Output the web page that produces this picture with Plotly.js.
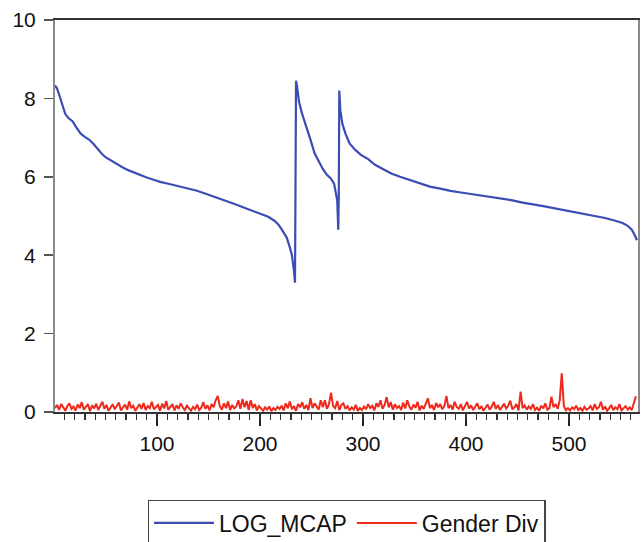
<!DOCTYPE html>
<html>
<head>
<meta charset="utf-8">
<script src="https://cdn.plot.ly/plotly-3.0.1.min.js"></script>
<style>html,body{margin:0;padding:0;background:#fff;}#chart{width:644px;height:542px;}</style>
</head>
<body>
<div id="chart"></div>
<script>
var mcapObs = [1,3,5,8,11,14,18,22,26,30,34,38,42,46,50,55,60,66,72,78,84,90,96,103,110,116,122,130,138,146,154,162,170,178,186,194,202,208,214,218,222,226,229,231,233,234,234.5,235,236,238,241,245,249,253,257,261,265,269,272,274,275,276,276.5,277,278,280,283,287,292,298,305,312,320,328,336,345,355,365,375,385,395,405,415,425,435,445,455,465,475,485,495,505,515,525,535,545,552,557,561,564,566];
var mcapVal = [8.33,8.25,8.1,7.85,7.6,7.5,7.42,7.25,7.1,7.02,6.95,6.85,6.72,6.6,6.5,6.42,6.33,6.25,6.17,6.1,6.03,5.98,5.93,5.87,5.83,5.79,5.76,5.71,5.65,5.58,5.51,5.43,5.36,5.28,5.2,5.12,5.04,4.98,4.88,4.78,4.62,4.45,4.2,4.0,3.6,3.3,5.8,8.45,8.3,7.9,7.6,7.3,6.95,6.6,6.4,6.2,6.05,5.95,5.82,5.5,5.4,4.65,5.5,8.2,7.7,7.35,7.1,6.85,6.7,6.56,6.45,6.3,6.18,6.08,6.0,5.92,5.83,5.75,5.7,5.64,5.6,5.56,5.52,5.48,5.44,5.4,5.34,5.3,5.25,5.2,5.15,5.1,5.05,5.0,4.95,4.88,4.82,4.75,4.65,4.5,4.38];

// Gender Div: every second observation, 1..565
var genderStart = 1, genderStep = 2;
var genderVal = [
0.1,0.18,0.05,0.2,0.12,0.03,0.15,0.22,0.08,0.14,
0.04,0.19,0.1,0.25,0.06,0.13,0.2,0.02,0.17,0.09,
0.21,0.05,0.14,0.26,0.08,0.18,0.03,0.12,0.2,0.07,
0.15,0.24,0.04,0.11,0.19,0.06,0.27,0.1,0.16,0.03,
0.13,0.2,0.08,0.23,0.05,0.15,0.1,0.26,0.07,0.12,
0.18,0.03,0.21,0.09,0.28,0.06,0.14,0.2,0.04,0.17,
0.08,0.22,0.12,0.05,0.16,0.1,0.03,0.13,0.07,0.19,
0.05,0.11,0.25,0.08,0.17,0.04,0.2,0.12,0.3,0.41,
0.15,0.06,0.22,0.1,0.27,0.05,0.18,0.09,0.14,0.3,
0.08,0.33,0.12,0.28,0.05,0.3,0.1,0.2,0.04,0.15,
0.09,0.03,0.12,0.06,0.14,0.02,0.1,0.05,0.13,0.08,
0.16,0.04,0.22,0.1,0.27,0.07,0.15,0.03,0.2,0.12,
0.25,0.08,0.18,0.05,0.35,0.1,0.22,0.14,0.06,0.3,
0.12,0.3,0.08,0.2,0.49,0.15,0.1,0.28,0.05,0.18,
0.22,0.08,0.15,0.04,0.12,0.06,0.18,0.03,0.1,0.05,
0.14,0.07,0.2,0.1,0.16,0.04,0.22,0.13,0.3,0.08,
0.18,0.38,0.12,0.25,0.06,0.2,0.1,0.15,0.05,0.24,
0.09,0.3,0.14,0.06,0.19,0.11,0.26,0.04,0.16,0.08,
0.21,0.35,0.1,0.18,0.05,0.23,0.12,0.2,0.07,0.15,
0.41,0.1,0.18,0.06,0.26,0.13,0.08,0.2,0.04,0.14,
0.26,0.09,0.17,0.05,0.12,0.22,0.07,0.15,0.03,0.11,
0.19,0.06,0.14,0.26,0.08,0.18,0.05,0.13,0.21,0.09,
0.16,0.29,0.07,0.12,0.2,0.04,0.52,0.1,0.17,0.06,
0.14,0.08,0.2,0.05,0.11,0.03,0.16,0.09,0.22,0.06,
0.1,0.39,0.12,0.2,0.08,0.3,0.99,0.15,0.05,0.1,
0.04,0.12,0.07,0.16,0.05,0.1,0.03,0.13,0.06,0.09,
0.15,0.04,0.2,0.08,0.12,0.26,0.06,0.14,0.03,0.1,
0.18,0.05,0.12,0.07,0.2,0.04,0.1,0.15,0.06,0.12,
0.05,0.2,0.4];
var genderObs = genderVal.map(function(_, k){ return genderStart + genderStep * k; });

var seriesNames = ['LOG_MCAP', 'Gender Div'];
var yTicks = [0, 2, 4, 6, 8, 10];

var font = 'Liberation Sans, Arial, sans-serif';
var traces = [
  {x: mcapObs, y: mcapVal, name: seriesNames[0], type: 'scatter', mode: 'lines',
   line: {color: '#3b4cb3', width: 2.2}},
  {x: genderObs, y: genderVal, name: seriesNames[1], type: 'scatter', mode: 'lines',
   line: {color: '#ee2a1c', width: 2}},
  // carrier for the minor-tick axis (invisible)
  {x: genderObs, y: genderVal, xaxis: 'x2', type: 'scatter', mode: 'lines',
   line: {color: 'rgba(0,0,0,0)', width: 0}, showlegend: false, hoverinfo: 'skip'}
];
var layout = {
  width: 644, height: 542,
  margin: {l: 55, r: 6, t: 20, b: 130, autoexpand: false},
  paper_bgcolor: '#fff', plot_bgcolor: '#fff',
  font: {family: font, color: '#111', size: 21},
  showlegend: true,
  legend: {orientation: 'h', x: 0.5, xanchor: 'center', xref: 'paper',
           y: 0.0775, yanchor: 'top', yref: 'container',
           bordercolor: '#444', borderwidth: 1.5, font: {size: 23, family: font, color: '#111'},
           itemwidth: 60, tracegroupgap: 0},
  xaxis: {range: [1, 567], tickmode: 'linear', tick0: 0, dtick: 100, ticks: 'outside', ticklen: 12, tickwidth: 1.6,
          tickcolor: '#222', showgrid: false, zeroline: false, showline: true,
          linecolor: '#333', linewidth: 2, mirror: true,
          tickfont: {size: 21, family: font, color: '#111'}},
  xaxis2: {range: [1, 567], overlaying: 'x', anchor: 'y', side: 'bottom', tickmode: 'linear', tick0: 0, dtick: 10,
           ticks: 'outside', ticklen: 7, tickwidth: 1.3, tickcolor: '#333', showticklabels: false,
           showgrid: false, zeroline: false, showline: false},
  yaxis: {range: [0, 10], tickvals: yTicks, ticks: 'outside', ticklen: 9, tickwidth: 1.6,
          tickcolor: '#555', showgrid: false, zeroline: false, showline: true,
          linecolor: '#8a8a8a', linewidth: 2, mirror: true, ticklabelstandoff: 4,
          tickfont: {size: 21, family: font, color: '#111'}}
};
Plotly.newPlot('chart', traces, layout, {displayModeBar: false, staticPlot: true});
</script>
</body>
</html>
